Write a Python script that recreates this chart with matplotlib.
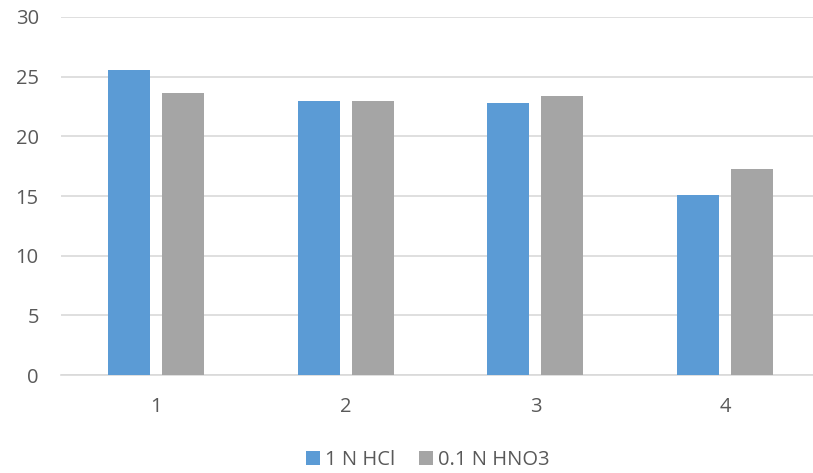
import numpy as np
import matplotlib.pyplot as plt

categories = ["1", "2", "3", "4"]
hcl = [25.6, 23.0, 22.8, 15.1]
hno3 = [23.6, 23.0, 23.4, 17.3]
yticks = [0, 5, 10, 15, 20, 25, 30]

plt.rcParams['font.family'] = ['Open Sans', 'DejaVu Sans']
text_color = "#595959"
grid_color = "#d9d9d9"

fig = plt.figure(figsize=(8.13, 4.73), dpi=100)
# axes runs a bit past the right edge, the way the chart was cut
ax = fig.add_axes([61 / 813, 1 - 375 / 473, 759 / 813, 358 / 473])

x = np.arange(len(categories))
width = 0.222
offset = 0.142
ax.bar(x - offset, hcl, width, color="#5b9bd5", label="1 N HCl", zorder=3)
ax.bar(x + offset, hno3, width, color="#a5a5a5", label="0.1 N HNO3", zorder=3)

ax.set_xlim(-0.5, 3.5)
ax.set_ylim(0, 30)
ax.set_yticks(yticks)
ax.set_xticks(x)
ax.set_xticklabels(categories)
ax.yaxis.grid(True, color=grid_color, linewidth=1.2, zorder=0)
for side in ["top", "right", "left"]:
    ax.spines[side].set_visible(False)
ax.spines["bottom"].set_color(grid_color)
ax.spines["bottom"].set_linewidth(1.2)
ax.tick_params(axis="both", length=0, labelsize=14.5, colors=text_color)
ax.tick_params(axis="y", pad=16)
ax.tick_params(axis="x", pad=16)

fig.legend(loc="center", bbox_to_anchor=(428 / 813, 1 - 460 / 473), ncol=2,
           frameon=False, fontsize=14.5, handlelength=0.7, handleheight=0.7,
           handletextpad=0.25, columnspacing=1.2, labelcolor=text_color)

fig.savefig("out.png", dpi=100)
